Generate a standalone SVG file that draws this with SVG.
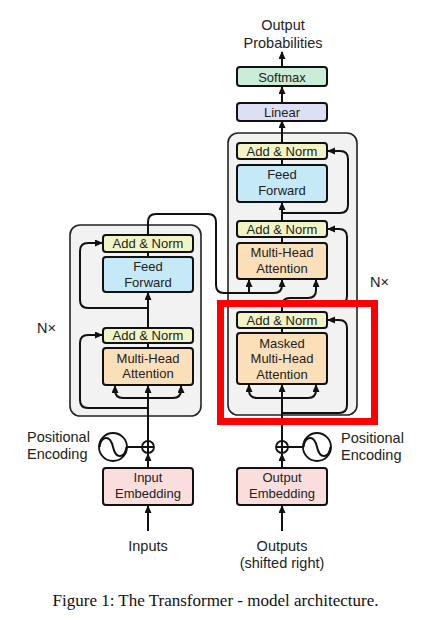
<svg xmlns="http://www.w3.org/2000/svg" width="444" height="623" viewBox="0 0 444 623">
<defs>
<style>
.bg{fill:#fff}
.stack{fill:#f2f2f2;stroke:#222;stroke-width:1.6}
.box{stroke:#111;stroke-width:2}
.an{fill:#f1f5c6}
.ff{fill:#c6e9f7}
.mha{fill:#fbdfb9}
.sm{fill:#cbecd6}
.lin{fill:#dde0f5}
.emb{fill:#fadede}
.t{font-family:"Liberation Sans",Arial,sans-serif;font-size:13px;fill:#222;text-anchor:middle}
.o{font-family:"Liberation Sans",Arial,sans-serif;font-size:14.5px;fill:#222}
.c{text-anchor:middle}
.w{fill:none;stroke:#111;stroke-width:2}
.a{marker-end:url(#ah)}
.ring{fill:#fff;stroke:#111;stroke-width:1.8}
.cap{font-family:"Liberation Serif","Times New Roman",serif;font-size:17px;fill:#111;text-anchor:middle}
</style>
<marker id="ah" markerUnits="userSpaceOnUse" markerWidth="8" markerHeight="8" refX="7" refY="3.5" orient="auto">
<path d="M0,0 L8,3.5 L0,7 z" fill="#111"/>
</marker>
</defs>
<rect class="bg" x="0" y="0" width="444" height="623"/>

<g id="encoder-stack"><rect class="stack" x="70" y="225" width="131" height="191" rx="10"/></g>
<g id="decoder-stack"><rect class="stack" x="228" y="133" width="129" height="282" rx="10"/></g>

<g id="connectors">
<path class="w a" d="M282,67 V52"/>
<path class="w a" d="M282,103 V87"/>
<path class="w a" d="M282,143 V121"/>
<path class="w" d="M282,165 V159"/>
<path class="w a" d="M282,221 V203"/>
<path class="w a" d="M282,213 H340 Q348,213 348,205 V159 Q348,151 340,151 H328"/>
<path class="w" d="M282,243 V237"/>
<path class="w a" d="M282,304 H339 Q347,304 347,296 V237 Q347,229 339,229 H328"/>
<path class="w a" d="M148,235 V222 Q148,214 156,214 H208 Q216,214 216,222 V285 Q216,293 224,293 H274 Q282,293 282,285 V280"/>
<path class="w a" d="M249,293 V280"/>
<path class="w a" d="M282,312 V306 Q282,298 290,298 H308 Q316,298 316,290 V280"/>
<path class="w" d="M282,333 V328"/>
<path class="w a" d="M282,413 H339 Q347,413 347,405 V328 Q347,320 339,320 H328"/>
<path class="w a" d="M282,441 V385"/>
<path class="w a" d="M282,398 H257 Q249,398 249,390 V385"/>
<path class="w a" d="M282,398 H308 Q316,398 316,390 V385"/>
<path class="w a" d="M282,468 V454"/>
<path class="w a" d="M282,531 V506"/>
<path class="w" d="M288,447 H303"/>

<path class="w a" d="M148,441 V386"/>
<path class="w a" d="M148,398 H123 Q115,398 115,390 V386"/>
<path class="w a" d="M148,398 H173 Q181,398 181,390 V386"/>
<path class="w" d="M148,348 V343"/>
<path class="w a" d="M148,408 H88 Q80,408 80,400 V343 Q80,335 88,335 H102"/>
<path class="w a" d="M148,328 V293"/>
<path class="w a" d="M148,308 H88 Q80,308 80,300 V251 Q80,243 88,243 H102"/>
<path class="w" d="M148,257 V252"/>
<path class="w a" d="M148,468 V454"/>
<path class="w a" d="M148,531 V506"/>
<path class="w" d="M127,447 H142"/>
</g>

<g id="softmax"><rect class="box sm" x="237" y="67" width="90" height="19" rx="3"/><text class="t" x="282" y="81.5">Softmax</text></g>
<g id="linear"><rect class="box lin" x="237" y="103" width="90" height="18" rx="3"/><text class="t" x="282" y="117">Linear</text></g>
<g id="dec-addnorm3"><rect class="box an" x="237" y="143" width="90" height="16" rx="3"/><text class="t" x="282" y="155.5">Add &amp; Norm</text></g>
<g id="dec-ff"><rect class="box ff" x="237" y="165" width="90" height="37" rx="3"/><text class="t" x="282" y="179">Feed</text><text class="t" x="282" y="195">Forward</text></g>
<g id="dec-addnorm2"><rect class="box an" x="237" y="221" width="90" height="16" rx="3"/><text class="t" x="282" y="233.5">Add &amp; Norm</text></g>
<g id="dec-mha"><rect class="box mha" x="237" y="243" width="90" height="36" rx="3"/><text class="t" x="282" y="257">Multi-Head</text><text class="t" x="282" y="273">Attention</text></g>
<g id="dec-addnorm1"><rect class="box an" x="237" y="312" width="90" height="16" rx="3"/><text class="t" x="282" y="324.5">Add &amp; Norm</text></g>
<g id="dec-masked-mha"><rect class="box mha" x="237" y="333" width="90" height="51" rx="3"/><text class="t" x="282" y="347.5">Masked</text><text class="t" x="282" y="363">Multi-Head</text><text class="t" x="282" y="378.5">Attention</text></g>
<g id="output-embedding"><rect class="box emb" x="237" y="468" width="90" height="37" rx="3"/><text class="t" x="282" y="482">Output</text><text class="t" x="282" y="498">Embedding</text></g>

<g id="enc-addnorm2"><rect class="box an" x="103" y="235" width="90" height="17" rx="3"/><text class="t" x="148" y="248">Add &amp; Norm</text></g>
<g id="enc-ff"><rect class="box ff" x="103" y="257" width="90" height="35" rx="3"/><text class="t" x="148" y="270.5">Feed</text><text class="t" x="148" y="286.5">Forward</text></g>
<g id="enc-addnorm1"><rect class="box an" x="103" y="328" width="90" height="15" rx="3"/><text class="t" x="148" y="340">Add &amp; Norm</text></g>
<g id="enc-mha"><rect class="box mha" x="103" y="348" width="90" height="37" rx="3"/><text class="t" x="148" y="362.5">Multi-Head</text><text class="t" x="148" y="378">Attention</text></g>
<g id="input-embedding"><rect class="box emb" x="103" y="468" width="90" height="37" rx="3"/><text class="t" x="148" y="482">Input</text><text class="t" x="148" y="498">Embedding</text></g>

<g id="enc-posenc">
<circle class="ring" cx="113" cy="447" r="14"/>
<path class="w" d="M99.5,447 C101,436 110,434 113,447 C116,460 125,458 126.5,447"/>
</g>
<g id="enc-add">
<circle class="ring" cx="148" cy="447" r="6"/>
<path class="w" stroke-width="1.5" d="M143,447 H153 M148,442 V452"/>
</g>
<g id="dec-posenc">
<circle class="ring" cx="317" cy="447" r="14"/>
<path class="w" d="M303.5,447 C305,436 314,434 317,447 C320,460 329,458 330.5,447"/>
</g>
<g id="dec-add">
<circle class="ring" cx="282" cy="447" r="6"/>
<path class="w" stroke-width="1.5" d="M277,447 H287 M282,442 V452"/>
</g>

<g id="labels">
<text class="o c" x="283" y="30" font-size="14">Output</text>
<text class="o c" x="283" y="48" font-size="14">Probabilities</text>
<text class="o" x="37" y="333">N×</text>
<text class="o" x="370" y="287">N×</text>
<text class="o" x="27" y="442">Positional</text>
<text class="o" x="27" y="459">Encoding</text>
<text class="o" x="341" y="443">Positional</text>
<text class="o" x="341" y="460">Encoding</text>
<text class="o c" x="148" y="551">Inputs</text>
<text class="o c" x="282" y="551">Outputs</text>
<text class="o c" x="282" y="568">(shifted right)</text>
</g>

<g id="highlight"><rect x="220.5" y="303.5" width="154" height="118" fill="none" stroke="#ff0000" stroke-width="7"/></g>

<text class="cap" x="215.5" y="606">Figure 1: The Transformer - model architecture.</text>
</svg>
